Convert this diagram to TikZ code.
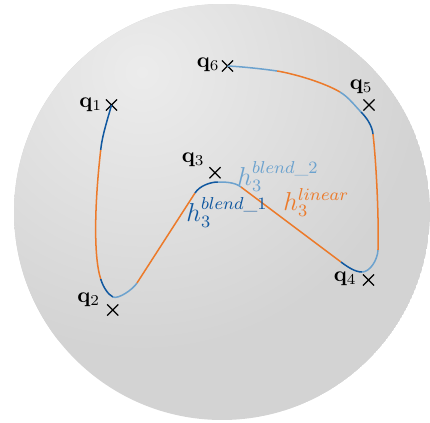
\documentclass[tikz,border=0pt]{standalone}
\usepackage{amsmath}
\usetikzlibrary{shapes.misc}
\definecolor{sphbase}{RGB}{211,211,211}
\definecolor{sphlight}{RGB}{236,236,236}
\definecolor{cdark}{RGB}{16,88,160}
\definecolor{clight}{RGB}{108,162,206}
\definecolor{corange}{RGB}{236,122,42}
\begin{document}
\begin{tikzpicture}[x=0.463pt,y=-0.463pt,
  seg/.style={line width=0.7pt},
  wp/.style={cross out,draw=black,line width=0.55pt,minimum size=4.6pt,inner sep=0pt},
  qlab/.style={anchor=base east,inner sep=0pt},
  hlab/.style={anchor=base west,inner sep=0pt,font=\large}]
\useasboundingbox (0,0) rectangle (430,423);
% sphere
\begin{scope}
  \clip (222,212) circle[radius=96.3pt];
  \fill[sphbase] (222,212) circle[radius=96.3pt];
  \shade[inner color=sphlight,outer color=sphbase] (142,72) circle[radius=130pt];
\end{scope}
% waypoints
\node[wp] (q1) at (111.5,105) {};
\node[wp] (q2) at (112.7,310) {};
\node[wp] (q3) at (215,172.7) {};
\node[wp] (q4) at (368.5,280) {};
\node[wp] (q5) at (369,105) {};
\node[wp] (q6) at (227.5,66) {};
\node[qlab] (l1) at (102.5,107) {$\mathbf{q}_1$};
\node[qlab] (l2) at (100.5,302) {$\mathbf{q}_2$};
\node[qlab] (l3) at (205,162) {$\mathbf{q}_3$};
\node[qlab] (l4) at (357,281) {$\mathbf{q}_4$};
\node[qlab] (l5) at (373,89) {$\mathbf{q}_5$};
\node[qlab] (l6) at (220,67) {$\mathbf{q}_6$};
% trajectory points
\coordinate (p1) at (100.7,150);
\coordinate (p2) at (100.7,279);
\coordinate (p3) at (113,297);
\coordinate (p4) at (137,283);
\coordinate (p5) at (195,193);
\coordinate (p6) at (218,182);
\coordinate (p7) at (241,187);
\coordinate (p8) at (341,262);
\coordinate (p9) at (362,272);
\coordinate (p10) at (378,250);
\coordinate (p11) at (373,134);
\coordinate (p12) at (361,112);
\coordinate (p13) at (340,92);
\coordinate (p14) at (277,71);
\draw[seg,cdark] (q1.center) .. controls (108,118) and (102,136) .. (p1);
\draw[seg,corange] (p1) .. controls (95,200) and (93,255) .. (p2);
\draw[seg,cdark] (p2) .. controls (103.1,287) and (108,294.5) .. (p3);
\draw[seg,clight] (p3) .. controls (118,299.5) and (132.7,289.7) .. (p4);
\draw[seg,corange] (p4) -- (p5);
\draw[seg,cdark] (p5) .. controls (199.5,186) and (210,182) .. (p6);
\draw[seg,clight] (p6) .. controls (226,182) and (234.6,182.2) .. (p7);
\draw[seg,corange] (p7) -- (p8);
\draw[seg,cdark] (p8) .. controls (347.4,266.8) and (355,272) .. (p9);
\draw[seg,clight] (p9) .. controls (370,272) and (377.5,260) .. (p10);
\draw[seg,corange] (p10) .. controls (379,215) and (376,160) .. (p11);
\draw[seg,cdark] (p11) .. controls (372,125) and (366,117) .. (p12);
\draw[seg,clight] (p12) .. controls (356,107) and (348.5,97) .. (p13);
\draw[seg,corange] (p13) .. controls (323,82) and (292,73.3) .. (p14);
\draw[seg,clight] (p14) .. controls (262,68.75) and (240,66.5) .. (q6.center);
% labels
\node[hlab,text=cdark] (hb1) at (186,221) {$h_3^{blend\_1}$};
\node[hlab,text=clight] (hb2) at (237,185) {$h_3^{blend\_2}$};
\node[hlab,text=corange] (hlin) at (283,210) {$h_3^{linear}$};
\end{tikzpicture}
\end{document}
